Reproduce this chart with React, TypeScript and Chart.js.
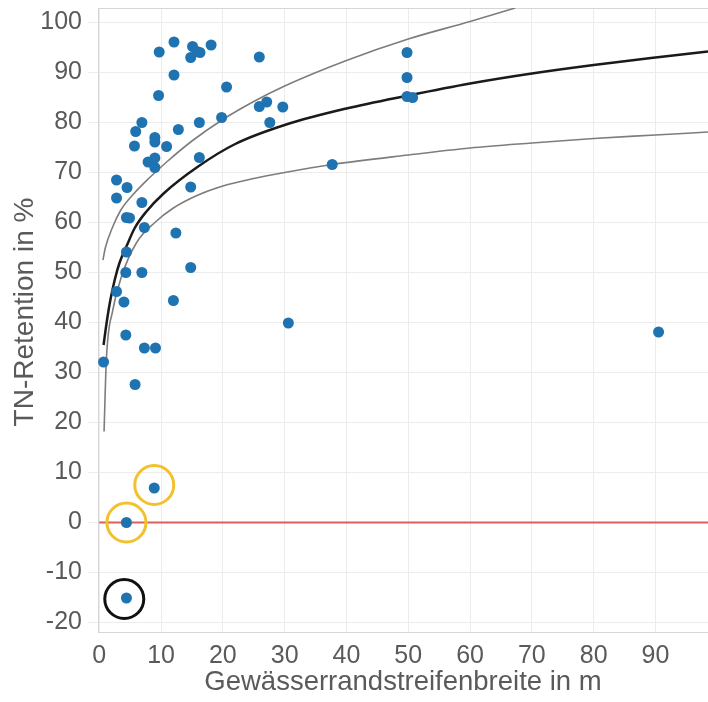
import React, { useEffect, useRef } from 'react';
import { Chart, registerables } from 'chart.js';

Chart.register(...registerables);

// Measured points: buffer strip width (m) and TN retention (%)
const WIDTH_M = [
  9.7, 12.1, 15.1, 15.8, 16.3, 14.8, 18.1, 25.9, 12.1, 20.6,
  9.6, 25.9, 27.1, 29.7, 27.6, 6.9, 5.9, 12.8, 16.2, 19.8,
  9.0, 9.0, 5.7, 10.9, 7.9, 9.0, 9.0, 16.2, 37.7, 2.8,
  4.5, 2.8, 6.9, 14.8, 4.4, 4.9, 7.3, 12.4, 4.4, 4.3,
  6.9, 14.8, 2.8, 4.0, 12.0, 30.6, 4.3, 7.3, 9.1, 0.7,
  5.8, 49.8, 49.8, 49.8, 50.7, 90.5, 8.9, 4.4, 4.4,
];
const TN_RETENTION = [
  94.1, 96.1, 95.2, 94.2, 94.0, 93.0, 95.5, 93.1, 89.5, 87.1,
  85.4, 83.2, 84.1, 83.1, 80.0, 80.0, 78.2, 78.6, 80.0, 81.0,
  77.0, 76.1, 75.3, 75.2, 72.1, 72.9, 71.0, 73.0, 71.6, 68.5,
  67.0, 64.9, 64.0, 67.1, 61.0, 60.9, 59.0, 57.9, 54.1, 50.0,
  50.0, 51.0, 46.2, 44.1, 44.4, 39.9, 37.5, 34.9, 34.9, 32.1,
  27.6, 94.0, 89.0, 85.2, 85.0, 38.1, 6.9, 0.0, -15.1,
];

// Fitted curve (black) and band (grey)
const FIT_X = [0.7, 1.2, 1.8, 2.5, 3.3, 4.5, 5.7, 7.5, 10.5, 16, 22, 30, 40, 50, 60, 70, 80, 90, 98.5];
const FIT_Y = [35.5, 40, 44.5, 48.5, 52.0, 55.5, 58.8, 62, 65.9, 71.2, 75.7, 79.5, 82.8, 85.4, 87.8, 89.8, 91.5, 93, 94.2];
const UPPER_X = [0.6, 1.0, 2.2, 3.5, 5.7, 8, 11, 15, 20, 25, 30, 40, 50, 60, 67.3];
const UPPER_Y = [52.5, 55, 59.2, 62.5, 65.9, 68.8, 72.2, 76.3, 80.6, 84.2, 87.3, 92.4, 96.7, 100.2, 102.9];
const LOWER_X = [0.78, 1.15, 2.2, 3.6, 6, 9, 12, 16, 20, 25, 30, 37.7, 50, 60, 70, 80, 90, 98.5];
const LOWER_Y = [18.2, 32.5, 42.5, 49.2, 55.9, 60.0, 62.9, 65.5, 67.3, 68.8, 70.0, 71.6, 73.5, 74.9, 75.9, 76.8, 77.5, 78.1];

// Highlight rings
const RING_YELLOW_X = [8.9, 4.4];
const RING_YELLOW_Y = [7.5, 0];
const RING_BLACK_X = [4.05];
const RING_BLACK_Y = [-15.3];

// Zero reference line
const ZERO_X = [0, 98.5];
const ZERO_Y = [0, 0];

const X_TICKS = [0, 10, 20, 30, 40, 50, 60, 70, 80, 90];
const Y_TICKS = [-20, -10, 0, 10, 20, 30, 40, 50, 60, 70, 80, 90, 100];
const X_RANGE = [-0.2, 98.5];
const Y_RANGE = [-21.9, 102.9];

const X_TITLE = 'Gewässerrandstreifenbreite in m';
const Y_TITLE = 'TN-Retention in %';

const toXY = (xs: number[], ys: number[]) => xs.map((x, i) => ({ x, y: ys[i] }));

const TEXT = '#5a5a5a';
const GRID = '#ececec';
const AXIS = '#d6d6d6';
const FONT = "'Liberation Sans', Arial, sans-serif";

const frameAndTitle = {
  id: 'frameAndTitle',
  beforeDatasetsDraw(chart: any) {
    const { ctx, chartArea } = chart;
    ctx.save();
    ctx.strokeStyle = AXIS;
    ctx.lineWidth = 1;
    ctx.beginPath();
    ctx.moveTo(chartArea.left, chartArea.top + 0.5);
    ctx.lineTo(chartArea.right, chartArea.top + 0.5);
    ctx.stroke();
    ctx.restore();
  },
  afterDraw(chart: any) {
    const { ctx } = chart;
    ctx.save();
    ctx.translate(25.5, 312);
    ctx.rotate(-Math.PI / 2);
    ctx.font = `28px ${FONT}`;
    ctx.fillStyle = TEXT;
    ctx.textAlign = 'center';
    ctx.textBaseline = 'middle';
    ctx.fillText(Y_TITLE, 0, 0);
    ctx.restore();
  },
};

export default function App() {
  const ref = useRef<HTMLCanvasElement | null>(null);

  useEffect(() => {
    document.body.style.margin = '0';
    if (!ref.current) return;
    const lineDs = (label: string, xs: number[], ys: number[], color: string, width: number) => ({
      label,
      data: toXY(xs, ys),
      showLine: true,
      borderColor: color,
      borderWidth: width,
      pointRadius: 0,
      pointHoverRadius: 0,
      cubicInterpolationMode: 'monotone' as const,
      fill: false,
    });
    const chart = new Chart(ref.current, {
      type: 'scatter',
      data: {
        datasets: [
          {
            label: 'Messwerte',
            data: toXY(WIDTH_M, TN_RETENTION),
            backgroundColor: '#1f73b0',
            borderWidth: 0,
            pointRadius: 5.5,
          },
          {
            label: 'gelb',
            data: toXY(RING_YELLOW_X, RING_YELLOW_Y),
            backgroundColor: 'rgba(0,0,0,0)',
            borderColor: '#f2c12e',
            borderWidth: 3,
            pointRadius: 19.5,
          },
          {
            label: 'schwarz',
            data: toXY(RING_BLACK_X, RING_BLACK_Y),
            backgroundColor: 'rgba(0,0,0,0)',
            borderColor: '#111111',
            borderWidth: 3,
            pointRadius: 19.5,
          },
          lineDs('Fit', FIT_X, FIT_Y, '#1a1a1a', 2.5),
          lineDs('Oben', UPPER_X, UPPER_Y, '#7d7d7d', 1.6),
          lineDs('Unten', LOWER_X, LOWER_Y, '#7d7d7d', 1.6),
          lineDs('Null', ZERO_X, ZERO_Y, '#d9605c', 2),
        ],
      },
      options: {
        animation: false,
        responsive: false,
        events: [],
        layout: { autoPadding: false, padding: { top: 8, right: 0, bottom: 0, left: 0 } },
        plugins: {
          legend: { display: false },
          tooltip: { enabled: false },
        },
        scales: {
          x: {
            type: 'linear',
            min: X_RANGE[0],
            max: X_RANGE[1],
            afterBuildTicks: (s: any) => {
              s.ticks = X_TICKS.map((v) => ({ value: v }));
            },
            afterFit: (s: any) => {
              s.height = 70;
              s.paddingLeft = 0;
              s.paddingRight = 0;
            },
            ticks: {
              font: { family: FONT, size: 25 },
              color: TEXT,
              padding: 9,
              maxRotation: 0,
              autoSkip: false,
            },
            grid: { color: GRID, lineWidth: 1, drawTicks: false },
            border: { display: true, color: AXIS },
            title: {
              display: true,
              text: X_TITLE,
              font: { family: FONT, size: 27.5 },
              color: TEXT,
              padding: { top: 0, bottom: 3 },
            },
          },
          y: {
            type: 'linear',
            min: Y_RANGE[0],
            max: Y_RANGE[1],
            afterBuildTicks: (s: any) => {
              s.ticks = Y_TICKS.map((v) => ({ value: v }));
            },
            afterFit: (s: any) => {
              s.width = 98;
              s.paddingTop = 0;
              s.paddingBottom = 0;
            },
            ticks: {
              font: { family: FONT, size: 25 },
              color: TEXT,
              padding: 6,
              autoSkip: false,
            },
            grid: { color: GRID, lineWidth: 1, drawTicks: true, tickLength: 10 },
            border: { display: true, color: AXIS },
            title: { display: false, text: Y_TITLE },
          },
        },
      },
      plugins: [frameAndTitle],
    });
    return () => chart.destroy();
  }, []);

  return (
    <div style={{ width: 708, height: 702 }}>
      <canvas ref={ref} width={708} height={702} style={{ display: 'block', width: 708, height: 702 }} />
    </div>
  );
}
